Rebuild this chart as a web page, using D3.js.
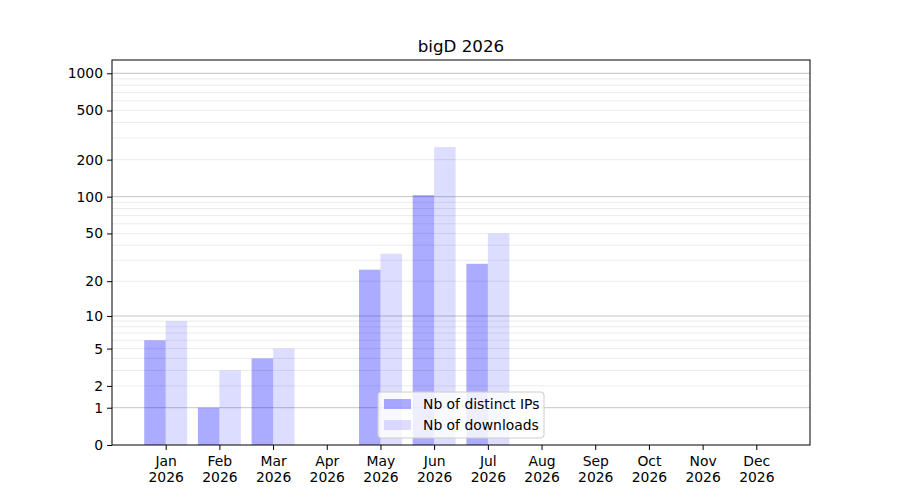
<!DOCTYPE html>
<html>
<head>
<meta charset="utf-8">
<script src="https://cdn.jsdelivr.net/npm/d3@7"></script>
<style>
  body { margin: 0; background: #fff; }
  text { font-family: "DejaVu Sans", sans-serif; }
</style>
</head>
<body>
<div id="container"></div>
<script>
// chart data
const title = 'bigD 2026'
const months = ['Jan', 'Feb', 'Mar', 'Apr', 'May', 'Jun', 'Jul', 'Aug', 'Sep', 'Oct', 'Nov', 'Dec']
const year = '2026'
const distinctIPs = [6, 1, 4, 0, 25, 103, 28, 0, 0, 0, 0, 0]
const downloads = [9, 3, 5, 0, 34, 253, 50, 0, 0, 0, 0, 0]
const yTicks = [0, 1, 2, 5, 10, 20, 50, 100, 200, 500, 1000]
const majorGrid = [1, 10, 100, 1000]
const seriesNames = ['Nb of distinct IPs', 'Nb of downloads']

const width = 900
const height = 500
const margin = { top: 60, right: 90, bottom: 55, left: 112 }

const svg = d3.select('#container').append('svg')
    .attr('width', width).attr('height', height)

const xScale = d3.scaleLinear()
    .domain([0, 13])
    .range([margin.left, width - margin.right])

const yScale = d3.scaleSymlog().constant(1)
    .domain([0, 1280])
    .range([height - margin.bottom, margin.top])

const barW = xScale(0.4) - xScale(0)

// minor grid: 2..9 in each decade
const minorGrid = []
for (const dec of [1, 10, 100]) {
    for (let i = 2; i <= 9; i++) minorGrid.push(i * dec)
}

const grid = svg.append('g')
grid.selectAll('.minor').data(minorGrid).enter().append('line')
    .attr('x1', margin.left).attr('x2', width - margin.right)
    .attr('y1', d => yScale(d)).attr('y2', d => yScale(d))
    .attr('stroke', '#ebebeb').attr('stroke-width', 1)
grid.selectAll('.major').data(majorGrid).enter().append('line')
    .attr('x1', margin.left).attr('x2', width - margin.right)
    .attr('y1', d => yScale(d)).attr('y2', d => yScale(d))
    .attr('stroke', '#c4c4c4').attr('stroke-width', 1)

// bars
svg.append('g').selectAll('rect')
    .data(distinctIPs)
    .enter()
    .append('rect')
    .attr('x', (d, i) => xScale(i + 1) - barW)
    .attr('y', d => yScale(d))
    .attr('width', barW)
    .attr('height', d => yScale(0) - yScale(d))
    .attr('fill', 'blue')
    .attr('fill-opacity', 0.33)

svg.append('g').selectAll('rect')
    .data(downloads)
    .enter()
    .append('rect')
    .attr('x', (d, i) => xScale(i + 1))
    .attr('y', d => yScale(d))
    .attr('width', barW)
    .attr('height', d => yScale(0) - yScale(d))
    .attr('fill', 'blue')
    .attr('fill-opacity', 0.135)

// axes
const xAxis = d3.axisBottom(xScale)
    .tickValues(d3.range(1, 13))
    .tickSize(5).tickPadding(4)
    .tickFormat(() => '')

const gx = svg.append('g')
    .attr('transform', `translate(0, ${height - margin.bottom})`)
    .call(xAxis)
gx.select('.domain').remove()
gx.selectAll('.tick line').attr('stroke', '#000')
gx.selectAll('.tick text').remove()
gx.selectAll('.tick').append('text')
    .attr('fill', '#000')
    .attr('text-anchor', 'middle')
    .style('font-size', '13.9px')
    .each(function (d) {
        const t = d3.select(this)
        t.append('tspan').attr('x', 0).attr('y', 21).text(months[d - 1])
        t.append('tspan').attr('x', 0).attr('y', 37).text(year)
    })

const yAxis = d3.axisLeft(yScale)
    .tickValues(yTicks)
    .tickSize(5).tickPadding(4)
    .tickFormat(d3.format('d'))

const gy = svg.append('g')
    .attr('transform', `translate(${margin.left}, 0)`)
    .call(yAxis)
gy.select('.domain').remove()
gy.selectAll('.tick line').attr('stroke', '#000')
gy.selectAll('.tick text')
    .attr('fill', '#000')
    .style('font-size', '13.9px')

// frame
svg.append('rect')
    .attr('x', margin.left).attr('y', margin.top)
    .attr('width', width - margin.right - margin.left)
    .attr('height', height - margin.bottom - margin.top)
    .attr('fill', 'none').attr('stroke', '#000').attr('stroke-width', 1)

// title
svg.append('text')
    .attr('x', (margin.left + width - margin.right) / 2)
    .attr('y', 52)
    .attr('text-anchor', 'middle')
    .style('font-size', '16.7px')
    .text(title)

// legend
const legend = svg.append('g').attr('transform', 'translate(378, 392)')
legend.append('rect')
    .attr('width', 166).attr('height', 46)
    .attr('rx', 3)
    .attr('fill', '#fff').attr('fill-opacity', 0.8)
    .attr('stroke', '#cccccc')
const legendOpacity = [0.33, 0.135]
seriesNames.forEach((name, i) => {
    legend.append('rect')
        .attr('x', 6).attr('y', 7 + i * 21)
        .attr('width', 27).attr('height', 10)
        .attr('fill', 'blue').attr('fill-opacity', legendOpacity[i])
    legend.append('text')
        .attr('x', 45).attr('y', 17 + i * 21)
        .style('font-size', '13.9px')
        .text(name)
})
</script>
</body>
</html>
